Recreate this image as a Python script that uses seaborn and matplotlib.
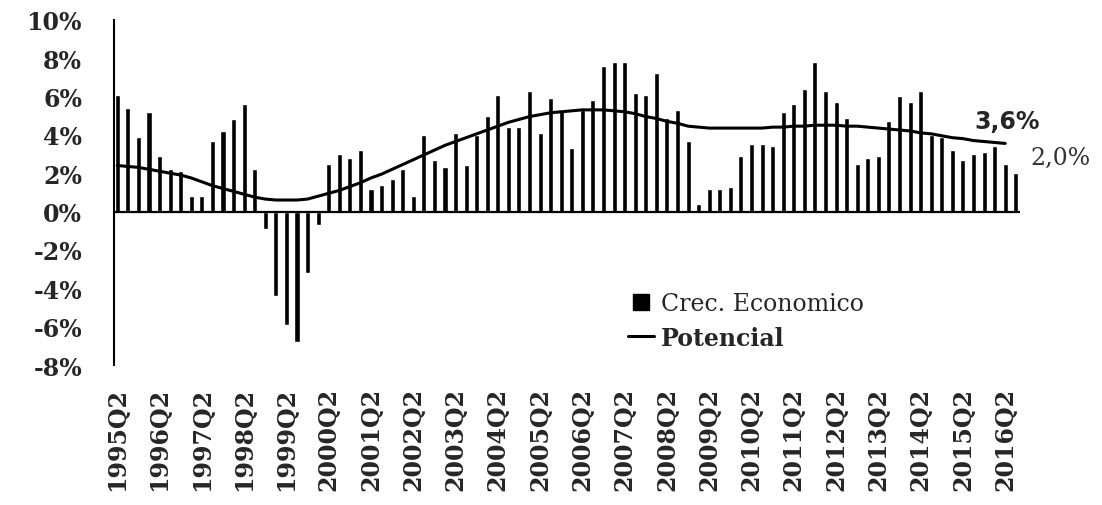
import numpy as np
import pandas as pd
import matplotlib
matplotlib.use("Agg")
import matplotlib.pyplot as plt
from matplotlib.lines import Line2D
import seaborn as sns

# quarterly data, 1995Q2 .. 2016Q3
years = list(range(1995, 2017))
quarters = [f"{y}Q{q}" for y in years for q in (1, 2, 3, 4)][1:87]

crec = [6.1, 5.4, 3.9, 5.2, 2.9, 2.2, 2.1, 0.8, 0.8, 3.7,
        4.2, 4.8, 5.6, 2.2, -0.9, -4.4, -5.9, -6.8, -3.2, -0.7,
        2.5, 3.0, 2.8, 3.2, 1.2, 1.4, 1.7, 2.2, 0.8, 4.0,
        2.7, 2.3, 4.1, 2.4, 4.0, 5.0, 6.1, 4.4, 4.4, 6.3,
        4.1, 5.9, 5.3, 3.3, 5.3, 5.8, 7.6, 7.8, 7.8, 6.2,
        6.1, 7.2, 4.9, 5.3, 3.7, 0.4, 1.2, 1.2, 1.3, 2.9,
        3.5, 3.5, 3.4, 5.2, 5.6, 6.4, 7.8, 6.3, 5.7, 4.9,
        2.5, 2.8, 2.9, 4.7, 6.0, 5.7, 6.3, 4.0, 3.9, 3.2,
        2.7, 3.0, 3.1, 3.4, 2.5, 2.0]

potencial = [2.4, 2.35, 2.3, 2.2, 2.1, 2.0, 1.9, 1.75, 1.55, 1.35,
             1.2, 1.05, 0.9, 0.75, 0.65, 0.6, 0.6, 0.6, 0.65, 0.8,
             0.95, 1.1, 1.3, 1.5, 1.75, 1.95, 2.2, 2.45, 2.7, 2.95,
             3.2, 3.45, 3.65, 3.85, 4.05, 4.25, 4.45, 4.65, 4.8, 4.95,
             5.05, 5.15, 5.2, 5.25, 5.3, 5.3, 5.3, 5.25, 5.2, 5.1,
             4.95, 4.85, 4.7, 4.6, 4.45, 4.4, 4.35, 4.35, 4.35, 4.35,
             4.35, 4.35, 4.4, 4.4, 4.45, 4.45, 4.5, 4.5, 4.5, 4.45,
             4.45, 4.4, 4.35, 4.3, 4.25, 4.2, 4.1, 4.05, 3.95, 3.85,
             3.8, 3.7, 3.65, 3.6, 3.55, np.nan]

df = pd.DataFrame({"trimestre": quarters, "crec": crec, "pot": potencial})
df["pos"] = np.arange(len(df))

sns.set_style("white")
plt.rcParams["font.family"] = ["DejaVu Serif"]

fig = plt.figure(figsize=(11.02, 5.06), dpi=100)
ax = fig.add_axes([114 / 1102, 1 - 366 / 506, 906 / 1102, (366 - 20.7) / 506])

sns.barplot(data=df, x="trimestre", y="crec", color="black", width=0.48,
            errorbar=None, saturation=1, ax=ax)
sns.lineplot(data=df, x="pos", y="pot", color="black", linewidth=2.2, ax=ax)

ax.axhline(0, color="black", linewidth=1.6)
ax.set_xlim(-0.31, 85.4)
ax.set_ylim(-8, 10)

ax.set_yticks(range(-8, 11, 2))
ax.set_yticklabels([f"{v}%" for v in range(-8, 11, 2)], fontsize=17, fontweight="bold")
ax.set_xticks(range(0, len(df), 4))
ax.set_xticklabels(quarters[::4], rotation=90, fontsize=17, fontweight="bold")
ax.tick_params(axis="y", length=0, pad=23)
ax.tick_params(axis="x", length=0, pad=16)
ax.set_xlabel("")
ax.set_ylabel("")

sns.despine(ax=ax, top=True, right=True, bottom=True)
ax.spines["left"].set_linewidth(1.5)
ax.spines["left"].set_color("black")
ax.grid(False)

ax.text(84.2, 4.7, "3,6%", ha="center", va="center", fontsize=17,
        fontweight="bold", family="DejaVu Sans")
ax.text(89.2, 2.8, "2,0%", ha="center", va="center", fontsize=17,
        color="#333333", clip_on=False)

handles = [Line2D([], [], marker="s", color="black", linestyle="none", markersize=11),
           Line2D([], [], color="black", linewidth=2.2)]
leg = fig.legend(handles, ["Crec. Economico", "Potencial"], loc="upper left",
                 bbox_to_anchor=(0.570, 0.421), frameon=False, fontsize=17,
                 handlelength=1.1, handletextpad=0.3, labelspacing=0.45,
                 borderaxespad=0, borderpad=0)
leg.get_texts()[1].set_fontweight("bold")

fig.savefig("out.png", dpi=100)
